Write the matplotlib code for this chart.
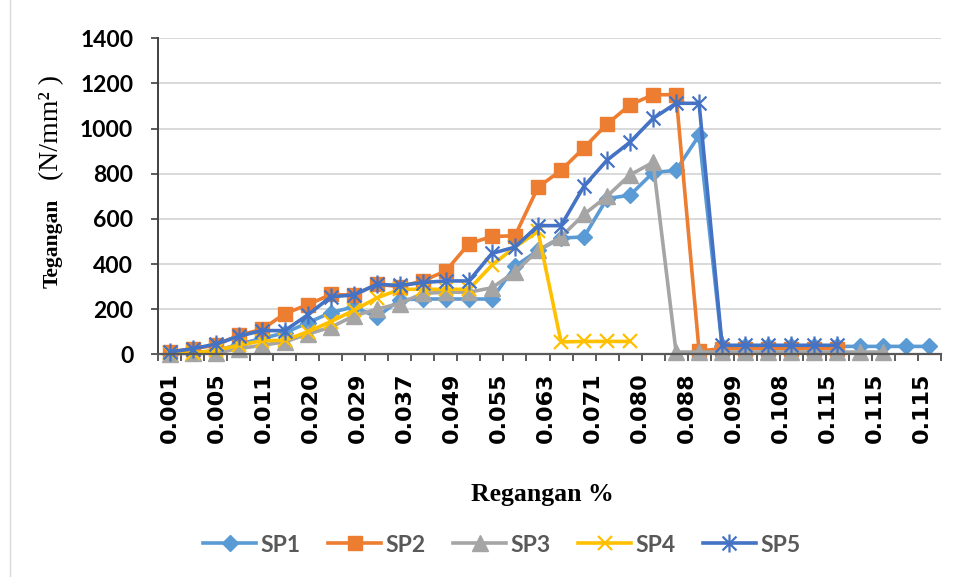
import numpy as np
import matplotlib
matplotlib.use('Agg')
import matplotlib.pyplot as plt
from matplotlib.path import Path
from matplotlib.lines import Line2D

nan = np.nan

# strain labels along the category axis
tick_labels = ['0.001', '0.005', '0.011', '0.020', '0.029', '0.037', '0.049', '0.055', '0.063',
               '0.071', '0.080', '0.088', '0.099', '0.108', '0.115', '0.115', '0.115']
n_cat = 34

# stress values (N/mm2) per category
sp1 = [3, 8, 15, 45, 70, 95, 140, 185, 210, 165, 242, 245, 245, 245, 245, 390, 460, 515, 520,
       690, 705, 805, 815, 970, 35, 35, 35, 35, 35, 35, 35, 35, 35, 35]
sp2 = [10, 25, 40, 85, 110, 180, 220, 265, 262, 310, 300, 325, 370, 490, 522, 525, 740, 815, 915,
       1020, 1105, 1150, 1150, 15, 25, 25, 25, 25, 25, 25, nan, nan, nan, nan]
sp3 = [2, 5, 5, 25, 40, 55, 90, 120, 170, 200, 225, 270, 275, 275, 295, 365, 460, 520, 620,
       700, 795, 850, 10, 10, 10, 10, 10, 10, 10, 10, 10, 10, nan, nan]
sp4 = [5, 5, 18, 40, 60, 62, 100, 145, 195, 250, 288, 288, 288, 288, 395, 475, 545, 55, 57,
       57, 57, nan, nan, nan, nan, nan, nan, nan, nan, nan, nan, nan, nan, nan]
sp5 = [10, 25, 45, 80, 105, 105, 175, 255, 263, 310, 305, 318, 325, 325, 447, 475, 570, 570, 745,
       860, 940, 1045, 1112, 1112, 40, 40, 40, 40, 40, 40, nan, nan, nan, nan]

series = ['SP1', 'SP2', 'SP3', 'SP4', 'SP5']
colors = ['#5B9BD5', '#ED7D31', '#A5A5A5', '#FFC000', '#4472C4']

# Excel style star: an "x" crossed by a vertical stroke
star = Path([(-1, -1), (1, 1), (-1, 1), (1, -1), (0, -1.3), (0, 1.3)],
            [Path.MOVETO, Path.LINETO, Path.MOVETO, Path.LINETO, Path.MOVETO, Path.LINETO])

styles = [
    dict(marker='D', ms=8.5, mew=1),
    dict(marker='s', ms=9.5, mew=1),
    dict(marker='^', ms=11.5, mew=1),
    dict(marker='x', ms=10, mew=1.6),
    dict(marker=star, ms=13, mew=1.6),
]

fig = plt.figure(figsize=(9.56, 5.77), dpi=100)
ax = fig.add_axes([158.3 / 956, 1 - 354.3 / 577, (940.7 - 158.3) / 956, (354.3 - 38.3) / 577])

x = np.arange(n_cat)
for name, vals, c, st in zip(series, [sp1, sp2, sp3, sp4, sp5], colors, styles):
    ax.plot(x, vals, color=c, lw=2.6, marker=st['marker'], ms=st['ms'], mew=st['mew'],
            mfc=c, mec=c, label=name, solid_joinstyle='round', clip_on=False)

ax.set_xlim(-0.5, n_cat - 0.5)
ax.set_ylim(0, 1400)
ax.set_yticks(np.arange(0, 1401, 200))
ax.yaxis.grid(True, color='#D9D9D9', lw=1.4)
ax.set_axisbelow(True)

# labels are spread over the full run of categories
ax.set_xticks(np.linspace(0, 32.7, len(tick_labels)))
ax.set_xticklabels(tick_labels, rotation=90, fontfamily='DejaVu Sans', fontweight='bold', fontsize=16)
ax.set_xticks(np.arange(-0.5, n_cat, 1), minor=True)
ax.tick_params(axis='x', which='major', length=0, pad=13)
ax.tick_params(axis='x', which='minor', length=5, width=1.2, color='#404040', direction='out')
ax.tick_params(axis='y', length=5, width=1.2, color='#404040', pad=13)
for lab in ax.get_yticklabels():
    lab.set_fontfamily('Lato')
    lab.set_fontweight('bold')
    lab.set_fontsize(16.5)

for s in ['top', 'right']:
    ax.spines[s].set_visible(False)
ax.spines['left'].set_color('#404040')
ax.spines['left'].set_linewidth(1.4)
ax.spines['bottom'].set_color('#595959')
ax.spines['bottom'].set_linewidth(1.6)

# axis titles
fig.text(53 / 956, 1 - 243 / 577, 'Tegangan', rotation=90, ha='center', va='center',
         fontfamily='Liberation Serif', fontweight='bold', fontsize=15.5)
fig.text(52 / 956, 1 - 128 / 577, '(N/mm\u00b2 )', rotation=90, ha='center', va='center',
         fontfamily='Liberation Serif', fontsize=20)
fig.text(542 / 956, 1 - 495 / 577, 'Regangan %', ha='center', va='center',
         fontfamily='Liberation Serif', fontweight='bold', fontsize=18.5)

# chart area edge on the left
fig.add_artist(Line2D([10 / 956, 10 / 956], [0, 1], color='#D9D9D9', lw=1))

leg = fig.legend(loc='center', bbox_to_anchor=(502 / 956, 1 - 545 / 577), ncol=5, frameon=False,
                 handlelength=2.3, handletextpad=0.2, columnspacing=1.2,
                 prop={'family': 'Lato', 'weight': 'bold', 'size': 16.5})
for t in leg.get_texts():
    t.set_color('#595959')

fig.savefig('out.png', dpi=100)
